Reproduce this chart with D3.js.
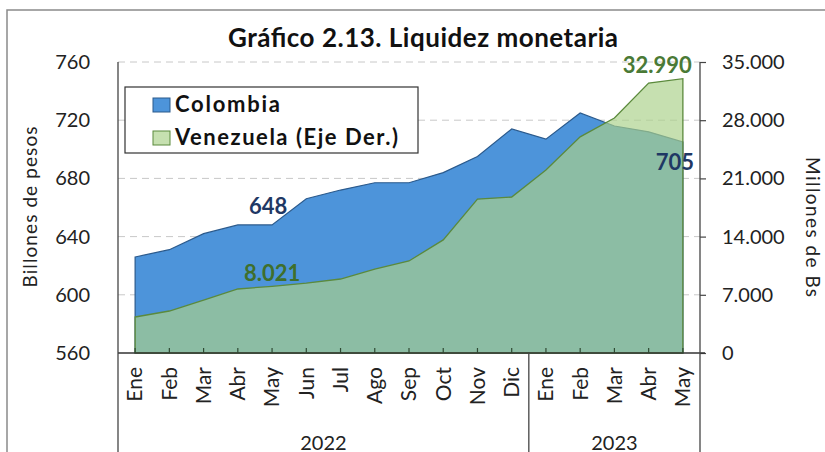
<!DOCTYPE html>
<html>
<head>
<meta charset="utf-8">
<title>Liquidez monetaria</title>
<script src="https://cdnjs.cloudflare.com/ajax/libs/d3/7.8.5/d3.min.js"></script>
<style>
  body { margin: 0; background: #fff; }
  svg { display: block; font-family: Lato, "Open Sans", sans-serif; }
</style>
</head>
<body>
<div id="chart"></div>
<script>
// ---- data ----
const months = ["Ene","Feb","Mar","Abr","May","Jun","Jul","Ago","Sep","Oct","Nov","Dic",
                "Ene","Feb","Mar","Abr","May"];
const years = ["2022", "2023"];
const yearCounts = [12, 5];
const colombia = [626, 631, 642, 648, 648, 666, 672, 677, 677, 684, 695, 714,
                  707, 725, 716, 712, 705];
const venezuela = [4330, 5050, 6370, 7700, 8021, 8400, 8900, 10100, 11070, 13600, 18500, 18760,
                   22000, 26000, 28260, 32470, 32990];
const leftTicks = [560, 600, 640, 680, 720, 760];
const rightTicks = [0, 7000, 14000, 21000, 28000, 35000];

// ---- layout ----
const W = 825, H = 452;
const pLeft = 118, pRight = 700, pTop = 62, pBottom = 353;

const svg = d3.select("#chart").append("svg")
    .attr("width", W).attr("height", H);

const loc = d3.formatLocale({decimal: ",", thousands: ".", grouping: [3], currency: ["$", ""]});
const fmt = loc.format(",d");

const x = d3.scaleBand().domain(d3.range(months.length)).range([pLeft, pRight]);
const cx = i => x(i) + x.bandwidth() / 2;
const yL = d3.scaleLinear().domain([560, 760]).range([pBottom, pTop]);
const yR = d3.scaleLinear().domain([0, 35000]).range([pBottom, pTop]);

// outer frame
svg.append("rect")
    .attr("x", 7).attr("y", 10).attr("width", W + 20).attr("height", H + 20)
    .attr("fill", "none").attr("stroke", "#8a8a8a").attr("stroke-width", 1.5);

// title
svg.append("text")
    .attr("x", 423).attr("y", 47)
    .attr("text-anchor", "middle")
    .attr("font-size", 26).attr("font-weight", "bold").attr("fill", "#111")
    .attr("textLength", 390).attr("lengthAdjust", "spacing")
    .text("Gráfico 2.13. Liquidez monetaria");

// gridlines
svg.append("g").selectAll("line")
    .data(leftTicks.slice(1))
    .join("line")
    .attr("x1", pLeft).attr("x2", pRight)
    .attr("y1", d => yL(d)).attr("y2", d => yL(d))
    .attr("stroke", "#c8c8c8").attr("stroke-dasharray", "7,5");

// areas
const areaCol = d3.area()
    .x((d, i) => cx(i)).y0(pBottom).y1(d => yL(d));
const areaVen = d3.area()
    .x((d, i) => cx(i)).y0(pBottom).y1(d => yR(d));

svg.append("path")
    .datum(colombia)
    .attr("d", areaCol)
    .attr("fill", "#4d94da")
    .attr("stroke", "#2b5a8c").attr("stroke-width", 1.2);

svg.append("path")
    .datum(venezuela)
    .attr("d", areaVen)
    .attr("fill", "#abd18b").attr("fill-opacity", 0.68)
    .attr("stroke", "#5b8a3c").attr("stroke-width", 1.3);

// left axis
const gL = svg.append("g")
    .attr("transform", `translate(${pLeft},0)`)
    .call(d3.axisLeft(yL).tickValues(leftTicks).tickSize(0).tickPadding(28));
gL.select(".domain").remove();
gL.selectAll("text").attr("font-size", 20).attr("fill", "#222").attr("font-family", "Lato");

// right axis
const gR = svg.append("g")
    .attr("transform", `translate(${pRight},0)`)
    .call(d3.axisRight(yR).tickValues(rightTicks).tickFormat(fmt).tickSize(6).tickSizeOuter(0).tickPadding(16));
gR.select(".domain").remove();
gR.selectAll("line").attr("stroke", "#444").attr("stroke-width", 1.2);
gR.selectAll("text").attr("font-size", 20).attr("fill", "#222").attr("font-family", "Lato");

// x axis
const gX = svg.append("g")
    .attr("transform", `translate(0,${pBottom})`)
    .call(d3.axisBottom(x).tickSize(-5).tickSizeOuter(0).tickFormat(i => months[i]));
gX.select(".domain").attr("d", `M${pLeft},0H${pRight + 5}`).attr("stroke", "#333").attr("stroke-width", 1.3);
gX.selectAll(".tick line").attr("stroke", "#2f4a33").attr("stroke-width", 1.2);
gX.selectAll(".tick text")
    .attr("font-size", 21).attr("fill", "#222").attr("font-family", "Lato")
    .attr("transform", "rotate(-90)")
    .attr("text-anchor", "end")
    .attr("x", -14).attr("y", 0).attr("dy", "0.35em");

// vertical axis lines and year separators
let acc = 0;
const bounds = [pLeft];
yearCounts.forEach(n => { acc += n; bounds.push(acc < months.length ? x(acc) : pRight); });
svg.append("g").selectAll("line")
    .data(bounds)
    .join("line")
    .attr("x1", d => d).attr("x2", d => d)
    .attr("y1", (d, i) => i === 1 ? pBottom : pTop)
    .attr("y2", H + 5)
    .attr("stroke", "#444").attr("stroke-width", 1.3);

svg.append("g").selectAll("text")
    .data(years)
    .join("text")
    .attr("x", (d, i) => (bounds[i] + bounds[i + 1]) / 2)
    .attr("y", 450)
    .attr("text-anchor", "middle")
    .attr("font-size", 20).attr("fill", "#222")
    .text(d => d);

// axis titles
svg.append("text")
    .attr("transform", "translate(37,207) rotate(-90)")
    .attr("text-anchor", "middle")
    .attr("font-size", 19).attr("fill", "#222")
    .attr("textLength", 161).attr("lengthAdjust", "spacing")
    .text("Billones de pesos");
svg.append("text")
    .attr("transform", "translate(806,227) rotate(90)")
    .attr("text-anchor", "middle")
    .attr("font-size", 19).attr("fill", "#222")
    .attr("textLength", 140).attr("lengthAdjust", "spacing")
    .text("Millones de Bs");

// data labels
const last = months.length - 1;
svg.append("text")
    .attr("x", cx(4) - 4).attr("y", yL(colombia[4]) - 11)
    .attr("text-anchor", "middle")
    .attr("font-size", 22).attr("font-weight", "bold").attr("fill", "#1f3864")
    .text(colombia[4]);
svg.append("text")
    .attr("x", cx(4)).attr("y", yR(venezuela[4]) - 5)
    .attr("text-anchor", "middle")
    .attr("font-size", 22).attr("font-weight", "bold").attr("fill", "#3f6f2c")
    .text(fmt(venezuela[4]));
svg.append("text")
    .attr("x", cx(last) + 9).attr("y", yR(venezuela[last]) - 6)
    .attr("text-anchor", "end")
    .attr("font-size", 22).attr("font-weight", "bold").attr("fill", "#4a7a36")
    .text(fmt(venezuela[last]));
svg.append("text")
    .attr("x", cx(last) - 8).attr("y", yL(colombia[last]) + 28)
    .attr("text-anchor", "middle")
    .attr("font-size", 22).attr("font-weight", "bold").attr("fill", "#1f3864")
    .text(colombia[last]);

// legend
const lg = svg.append("g");
lg.append("rect")
    .attr("x", 125).attr("y", 87).attr("width", 293).attr("height", 66)
    .attr("fill", "#fff").attr("stroke", "#333").attr("stroke-width", 1.2);
const legendItems = [
  {name: "Colombia", fill: "#4d94da", stroke: "#2b5a8c", len: 105},
  {name: "Venezuela (Eje Der.)", fill: "#c6e0b0", stroke: "#5b8a3c", len: 223}
];
legendItems.forEach((d, i) => {
  lg.append("rect")
    .attr("x", 153).attr("y", 98 + i * 33).attr("width", 17).attr("height", 14)
    .attr("fill", d.fill).attr("stroke", d.stroke);
  lg.append("text")
    .attr("x", 175).attr("y", 112 + i * 33)
    .attr("font-size", 22).attr("font-weight", "bold").attr("fill", "#111")
    .attr("textLength", d.len).attr("lengthAdjust", "spacing")
    .text(d.name);
});
</script>
</body>
</html>
